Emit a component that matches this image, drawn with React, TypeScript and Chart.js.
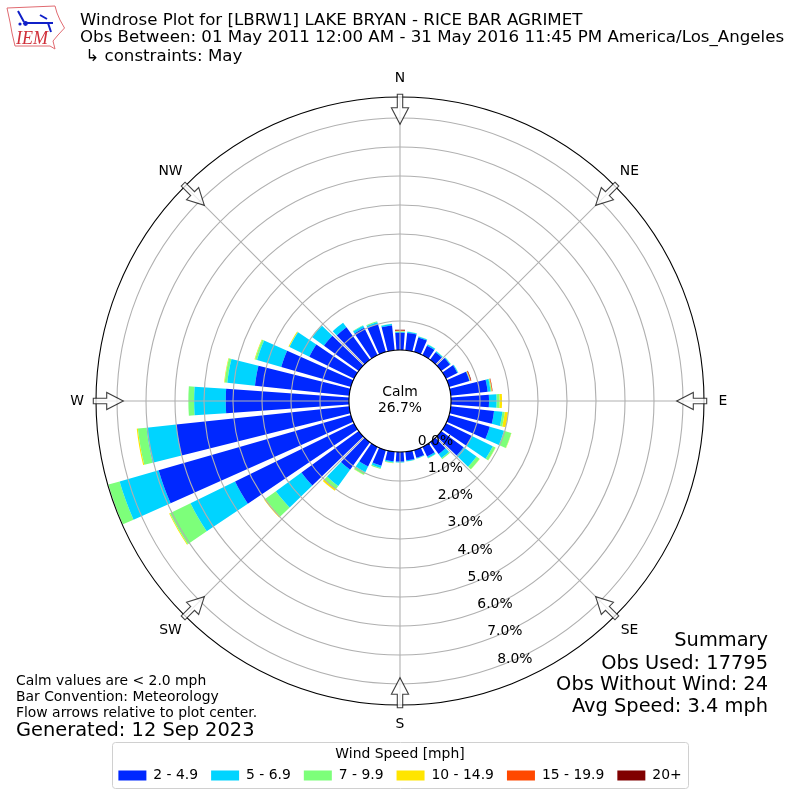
import React, { useEffect, useRef } from "react";
import { Chart, registerables, PolarAreaController } from "chart.js";

Chart.register(...registerables);

const directions = [0, 10, 20, 30, 40, 50, 60, 70, 80, 90, 100, 110, 120, 130, 140, 150, 160, 170, 180, 190, 200, 210, 220, 230, 240, 250, 260, 270, 280, 290, 300, 310, 320, 330, 340, 350];
const speed2to5 = [0.59, 0.6, 0.52, 0.36, 0.32, 0.37, 0.44, 0.73, 1.28, 1.31, 1.5, 1.46, 1.0, 0.95, 0.5, 0.37, 0.28, 0.3, 0.33, 0.33, 0.56, 0.75, 1.17, 2.44, 4.57, 6.9, 6.0, 4.25, 3.27, 2.5, 1.72, 1.48, 1.38, 1.05, 1.0, 0.86];
const speed5to7 = [0.03, 0.04, 0.03, 0.05, 0.04, 0.03, 0.03, 0.01, 0.1, 0.26, 0.29, 0.51, 0.8, 0.55, 0.17, 0.06, 0.02, 0.03, 0.03, 0.04, 0.08, 0.22, 0.69, 1.09, 1.71, 1.4, 1.03, 1.09, 0.96, 0.87, 0.76, 0.5, 0.2, 0.08, 0.07, 0.05];
const speed7to10 = [0.02, 0.01, 0.01, 0.01, 0.01, 0.01, 0.01, 0.01, 0.03, 0.1, 0.08, 0.26, 0.1, 0.13, 0.05, 0.02, 0.01, 0.01, 0.01, 0.02, 0.04, 0.1, 0.14, 0.45, 0.79, 0.4, 0.3, 0.2, 0.09, 0.07, 0.01, 0.02, 0, 0.02, 0.03, 0.01];
const speed10to15 = [0.01, 0, 0, 0, 0, 0, 0, 0.01, 0.01, 0.09, 0.12, 0.01, 0.01, 0.01, 0, 0, 0, 0, 0, 0.01, 0, 0.01, 0.07, 0.05, 0.03, 0, 0.04, 0, 0.02, 0.02, 0.03, 0, 0, 0, 0, 0];
const speed15to20 = [0.02, 0, 0, 0, 0, 0, 0, 0.02, 0.02, 0, 0, 0, 0, 0, 0, 0, 0, 0, 0, 0, 0, 0, 0, 0, 0, 0, 0, 0, 0, 0, 0, 0, 0, 0, 0, 0];
const speed20plus = [0.03, 0, 0, 0, 0, 0, 0, 0.02, 0.01, 0, 0, 0, 0, 0, 0, 0, 0, 0, 0, 0, 0, 0, 0, 0, 0, 0, 0, 0, 0, 0, 0, 0, 0, 0, 0, 0];

const seriesLabels = ["2 - 4.9", "5 - 6.9", "7 - 9.9", "10 - 14.9", "15 - 19.9", "20+"];
const seriesColors = ["#0028ff", "#00d4ff", "#7dff7a", "#ffe500", "#ff4800", "#800000"];
const seriesValues = [speed2to5, speed5to7, speed7to10, speed10to15, speed15to20, speed20plus];

const radialTicks = [0, 1, 2, 3, 4, 5, 6, 7, 8];
const radialTickLabels = ["0.0%", "1.0%", "2.0%", "3.0%", "4.0%", "5.0%", "6.0%", "7.0%", "8.0%"];
const compassLabels = ["N", "NE", "E", "SE", "S", "SW", "W", "NW"];
const titleLines = [
  "Windrose Plot for [LBRW1] LAKE BRYAN - RICE BAR AGRIMET",
  "Obs Between: 01 May 2011 12:00 AM - 31 May 2016 11:45 PM America/Los_Angeles",
  " \u21B3 constraints: May",
];
const summaryLines = ["Summary", "Obs Used: 17795", "Obs Without Wind: 24", "Avg Speed: 3.4 mph"];
const noteLines = ["Calm values are < 2.0 mph", "Bar Convention: Meteorology", "Flow arrows relative to plot center."];
const generatedLine = "Generated: 12 Sep 2023";
const calmLines = ["Calm", "26.7%"];
const legendTitle = "Wind Speed [mph]";

const FONT = "'DejaVu Sans'";
const R_MIN = -1.76;
const R_MAX = 8.725;
const BAR_DEG = 8;

class WindroseController extends (PolarAreaController as any) {
  static id = "windrose";
  static defaults = (PolarAreaController as any).defaults;
  static overrides = (PolarAreaController as any).overrides;

  updateElements(arcs: any[], start: number, count: number, mode: any) {
    const chart = (this as any).chart;
    const meta = (this as any)._cachedMeta;
    const scale = meta.rScale;
    const dsIndex = (this as any).index;
    for (let i = start; i < start + count; i++) {
      let below = 0;
      for (let d = 0; d < dsIndex; d++) below += Number(chart.data.datasets[d].data[i]);
      const top = below + Number(chart.data.datasets[dsIndex].data[i]);
      const dir = Number(chart.data.labels[i]);
      const startAngle = ((dir - BAR_DEG / 2 - 90) * Math.PI) / 180;
      const endAngle = ((dir + BAR_DEG / 2 - 90) * Math.PI) / 180;
      const options = (this as any).resolveDataElementOptions(i, mode);
      (this as any).updateElement(
        arcs[i],
        i,
        {
          x: scale.xCenter,
          y: scale.yCenter,
          innerRadius: scale.getDistanceFromCenterForValue(below),
          outerRadius: scale.getDistanceFromCenterForValue(top),
          startAngle,
          endAngle,
          circumference: endAngle - startAngle,
          options,
        },
        mode,
      );
    }
  }
}
Chart.register(WindroseController as any);

function text(ctx: CanvasRenderingContext2D, s: string, x: number, y: number, size: number, align: CanvasTextAlign = "left", base: CanvasTextBaseline = "alphabetic") {
  ctx.font = `${size}px ${FONT}`;
  ctx.fillStyle = "#000";
  ctx.textAlign = align;
  ctx.textBaseline = base;
  ctx.fillText(s, x, y);
}

function drawLogo(ctx: CanvasRenderingContext2D) {
  ctx.save();
  ctx.strokeStyle = "#e06a70";
  ctx.lineWidth = 1;
  ctx.beginPath();
  const outline = [[7, 8], [55, 6], [57, 13], [60, 20], [64.5, 28], [58, 35], [53, 41], [55, 49], [50, 46], [15, 46], [12, 33], [10, 22]];
  outline.forEach(([x, y], i) => (i ? ctx.lineTo(x, y) : ctx.moveTo(x, y)));
  ctx.closePath();
  ctx.stroke();
  ctx.strokeStyle = "#1020c8";
  ctx.lineWidth = 2;
  ctx.beginPath();
  ctx.moveTo(26, 23);
  ctx.lineTo(53, 23);
  ctx.moveTo(24, 22);
  ctx.lineTo(18, 11);
  ctx.moveTo(40, 15);
  ctx.lineTo(47, 19);
  ctx.moveTo(48, 23);
  ctx.lineTo(51, 32);
  ctx.stroke();
  ctx.fillStyle = "#1020c8";
  ctx.beginPath();
  ctx.arc(25.5, 23.5, 2.4, 0, Math.PI * 2);
  ctx.arc(20, 24, 1.6, 0, Math.PI * 2);
  ctx.fill();
  ctx.font = "italic 18px 'Liberation Serif'";
  ctx.fillStyle = "#d0303a";
  ctx.textAlign = "left";
  ctx.textBaseline = "alphabetic";
  ctx.fillText("IEM", 16, 44);
  ctx.restore();
}

const compassPlugin = {
  id: "compassLines",
  afterDatasetsDraw(chart: any) {
    const r = chart.scales.r;
    const ctx: CanvasRenderingContext2D = chart.ctx;
    const r0 = r.getDistanceFromCenterForValue(0);
    const r1 = r.getDistanceFromCenterForValue(R_MAX);
    ctx.save();
    ctx.strokeStyle = "#b0b0b0";
    ctx.lineWidth = 1.1;
    compassLabels.forEach((_, i) => {
      const a = (i * Math.PI) / 4;
      ctx.beginPath();
      ctx.moveTo(r.xCenter + r0 * Math.sin(a), r.yCenter - r0 * Math.cos(a));
      ctx.lineTo(r.xCenter + r1 * Math.sin(a), r.yCenter - r1 * Math.cos(a));
      ctx.stroke();
    });
    ctx.restore();
  },
};

const decorPlugin = {
  id: "decor",
  afterDraw(chart: any) {
    const r = chart.scales.r;
    const ctx: CanvasRenderingContext2D = chart.ctx;
    const cx = r.xCenter;
    const cy = r.yCenter;
    ctx.save();
    compassLabels.forEach((label, i) => {
      const a = (i * Math.PI) / 4;
      ctx.save();
      ctx.translate(cx, cy);
      ctx.rotate(a);
      ctx.beginPath();
      ctx.moveTo(-2.7, -306.7);
      ctx.lineTo(2.7, -306.7);
      ctx.lineTo(2.7, -293.3);
      ctx.lineTo(8.6, -293.3);
      ctx.lineTo(0, -276.7);
      ctx.lineTo(-8.6, -293.3);
      ctx.lineTo(-2.7, -293.3);
      ctx.closePath();
      ctx.fillStyle = "rgba(255,255,255,0.75)";
      ctx.fill();
      ctx.strokeStyle = "rgba(0,0,0,0.75)";
      ctx.lineWidth = 1.1;
      ctx.stroke();
      ctx.restore();
      const d = i % 2 === 0 ? 323 : 324.5;
      text(ctx, label, cx + d * Math.sin(a), cy - d * Math.cos(a), 13.9, "center", "middle");
    });
    radialTicks.forEach((v, i) => {
      const d = r.getDistanceFromCenterForValue(v);
      const a = (20 * Math.PI) / 180;
      text(ctx, radialTickLabels[i], cx + d * Math.sin(a) + 18, cy + d * Math.cos(a) - 8, 13.9, "center", "middle");
    });
    text(ctx, calmLines[0], cx, cy - 9, 13.9, "center", "middle");
    text(ctx, calmLines[1], cx, cy + 7, 13.9, "center", "middle");
    text(ctx, titleLines[0], 80, 25, 16.65);
    text(ctx, titleLines[1], 80, 42, 16.65);
    text(ctx, titleLines[2], 80, 61, 16.65);
    [646, 669, 690, 712].forEach((y, i) => text(ctx, summaryLines[i], 768, y, 19.4, "right"));
    [685, 701, 717].forEach((y, i) => text(ctx, noteLines[i], 16, y, 13.9));
    text(ctx, generatedLine, 16, 736, 19.4);
    ctx.strokeStyle = "#d0d0d0";
    ctx.lineWidth = 1;
    ctx.beginPath();
    (ctx as any).roundRect(112.5, 742.5, 576, 46, 3);
    ctx.stroke();
    drawLogo(ctx);
    ctx.restore();
  },
};

export default function App() {
  const ref = useRef<HTMLCanvasElement | null>(null);
  useEffect(() => {
    if (!ref.current) return;
    const chart = new Chart(ref.current, {
      type: "windrose" as any,
      data: {
        labels: directions.map(String),
        datasets: seriesValues.map((data, i) => ({
          label: seriesLabels[i],
          data,
          backgroundColor: seriesColors[i],
          borderWidth: 0,
        })),
      },
      options: {
        responsive: false,
        animation: false,
        events: [],
        layout: { padding: { left: 96, right: 96, top: 96, bottom: 7.5 } },
        scales: {
          r: {
            type: "radialLinear",
            min: R_MIN,
            max: R_MAX,
            startAngle: 0,
            afterBuildTicks: (axis: any) => {
              axis.ticks = [...radialTicks, R_MAX].map((value) => ({ value }));
            },
            ticks: { display: false },
            pointLabels: { display: false },
            angleLines: { display: false },
            grid: {
              circular: true,
              z: 1,
              lineWidth: 1.1,
              color: (c: any) => (c.tick && (c.tick.value === 0 || c.tick.value === R_MAX) ? "#000000" : "#b0b0b0"),
            },
          },
        },
        plugins: {
          tooltip: { enabled: false },
          title: { display: false },
          legend: {
            display: true,
            position: "bottom",
            title: {
              display: true,
              text: legendTitle,
              color: "#000",
              font: { family: FONT, size: 13.9 },
              padding: { top: 40.7, bottom: -8.72 },
            },
            labels: {
              boxWidth: 28,
              boxHeight: 10,
              padding: 13,
              color: "#000",
              font: { family: FONT, size: 13.9 },
              generateLabels: (c: any) =>
                c.data.datasets.map((ds: any, i: number) => ({
                  text: ds.label,
                  fillStyle: ds.backgroundColor,
                  strokeStyle: "transparent",
                  lineWidth: 0,
                  hidden: false,
                  datasetIndex: i,
                })),
            },
          },
        },
      } as any,
      plugins: [compassPlugin, decorPlugin] as any,
    });
    return () => chart.destroy();
  }, []);
  return (
    <div style={{ position: "absolute", left: 0, top: 0, width: 800, height: 800 }}>
      <canvas ref={ref} width={800} height={800} style={{ display: "block" }} />
    </div>
  );
}
